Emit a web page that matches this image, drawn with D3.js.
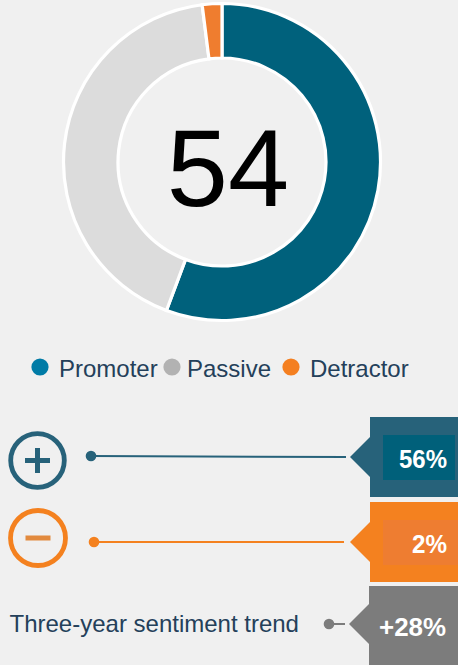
<!DOCTYPE html>
<html><head><meta charset="utf-8">
<script src="https://cdn.jsdelivr.net/npm/d3@7/dist/d3.min.js"></script>
<style>html,body{margin:0;padding:0;background:#f0f0f0;overflow:hidden}svg{display:block}text{font-family:"Liberation Sans",Arial,sans-serif}</style>
</head><body><svg id="c" width="458" height="665"></svg>
<script>
const categories = ["Promoter","Passive","Detractor"];
const shares = [55.7,42.3,2];
const sliceColors = ["#00617c","#dcdcdc","#ef7d2f"];
const legendColors = ["#007ba6","#b2b2b2","#f47f20"];
const npsScore = "54";
const trendLabel = "Three-year sentiment trend";
const calloutLabels = ["56%","2%","+28%"];
const calloutOuter = ["#27627a","#f4811f","#7c7c7c"];
const calloutInner = ["#00607a","#ee7d31",null];
const connectorColors = ["#27627a","#f4811f","#7c7c7c"];

const svg = d3.select("#c");
const ink = "#24405a";

// donut
const pie = d3.pie().value(d=>d).sort(null);
const arc = d3.arc().innerRadius(104).outerRadius(158.5);
const g = svg.append("g").attr("transform","translate(222,162)");
g.selectAll("path").data(pie(shares)).join("path")
 .attr("d",arc).attr("fill",(d,i)=>sliceColors[i])
 .attr("stroke","#fff").attr("stroke-width",3.2);
g.append("text").attr("text-anchor","middle").attr("x",6).attr("y",44).attr("font-size",110).attr("fill","#000").text(npsScore);

// legend
const lx = d3.scaleOrdinal().domain(categories).range([40,172,291]);
const tx = d3.scaleOrdinal().domain(categories).range([59,187,310]);
const leg = svg.append("g");
leg.selectAll("circle").data(categories).join("circle")
 .attr("cx",d=>lx(d)).attr("cy",367).attr("r",8.6).attr("fill",(d,i)=>legendColors[i]);
leg.selectAll("text").data(categories).join("text")
 .attr("x",d=>tx(d)).attr("y",377).attr("font-size",24).attr("fill",ink).text(d=>d);

// symbols
function symbol(cx,cy,r,color,barColor,plus){
  const s=svg.append("g").attr("transform",`translate(${cx},${cy})`);
  s.append("circle").attr("r",r).attr("fill","none").attr("stroke",color).attr("stroke-width",4.8);
  s.append("line").attr("x1",-12.5).attr("x2",12.5).attr("stroke",barColor).attr("stroke-width",5);
  if(plus) s.append("line").attr("y1",-12.5).attr("y2",12.5).attr("stroke",barColor).attr("stroke-width",5);
}
symbol(37.5,460.5,26.8,calloutOuter[0],calloutOuter[0],true);
symbol(38,538,27.5,calloutOuter[1],"#e28a3e",false);

// trend text
svg.append("text").attr("x",9.5).attr("y",632).attr("font-size",24).attr("fill",ink).text(trendLabel);

// callouts
const rows = [
 {top:417,h:80,mid:457,dotY:456,x0:91,x1:346,tip:350,body:370,tx:447,base:468,fs:26,innerW:72,len:48},
 {top:502,h:80,mid:542,dotY:542,x0:94,x1:344,tip:350,body:370,tx:447,base:553,fs:26,innerW:75,len:35},
 {top:586,h:79,mid:624,dotY:624,x0:329,x1:345,tip:349,body:369,tx:446,base:636,fs:26,innerW:0,len:67}
];
rows.forEach((r,i)=>{
  const c=svg.append("g");
  c.append("line").attr("x1",r.x0).attr("x2",r.x1).attr("y1",r.dotY).attr("y2",r.mid).attr("stroke",connectorColors[i]).attr("stroke-width",2);
  c.append("circle").attr("cx",r.x0).attr("cy",r.dotY).attr("r",5.3).attr("fill",connectorColors[i]);
  c.append("path").attr("fill",calloutOuter[i])
   .attr("d",`M${r.body},${r.top}H458V${r.top+r.h}H${r.body}V${r.mid+20}L${r.tip},${r.mid}L${r.body},${r.mid-20}Z`);
  if(calloutInner[i]) c.append("rect").attr("x",383).attr("y",r.top+18).attr("width",r.innerW).attr("height",45).attr("fill",calloutInner[i]);
  c.append("text").attr("x",r.tx-r.len).attr("y",r.base).attr("font-size",r.fs).attr("font-weight","bold").attr("fill","#fff")
   .attr("textLength",r.len).attr("lengthAdjust","spacingAndGlyphs").text(calloutLabels[i]);
});
</script></body></html>
